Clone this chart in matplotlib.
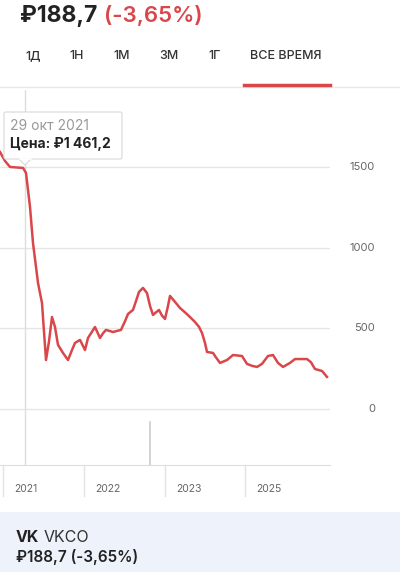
import matplotlib.pyplot as plt
from matplotlib.lines import Line2D
from matplotlib.patches import Rectangle, Polygon, FancyBboxPatch
import matplotlib.transforms as mtransforms

plt.rcParams['font.family'] = ['Inter', 'DejaVu Sans']

# price series (position along the time axis, price in roubles)
t = [0, 5, 10, 23, 26, 30, 33, 38, 42, 44, 46, 49, 52, 55, 58, 63, 68, 70, 72,
     75, 80, 85, 88, 92, 95, 100, 103, 106, 113, 121, 125, 128, 133, 136, 139,
     143, 147, 150, 153, 156, 159, 162, 165, 168, 170, 175, 180, 185, 190, 195,
     199, 202, 205, 207, 213, 216, 220, 227, 233, 242, 247, 252, 257, 262, 268,
     273, 278, 283, 290, 295, 302, 307, 311, 315, 322, 327]
price = [1596, 1540, 1503, 1497, 1466, 1255, 1031, 783, 658, 480, 304, 420, 571,
         509, 398, 348, 304, 335, 366, 410, 429, 366, 441, 480, 509, 441, 470,
         491, 478, 491, 545, 590, 615, 670, 727, 752, 720, 640, 584, 600, 615,
         580, 559, 640, 702, 665, 627, 600, 571, 540, 510, 472, 410, 354, 348,
         320, 286, 304, 335, 329, 280, 268, 261, 280, 329, 335, 286, 261, 286,
         310, 310, 310, 290, 248, 236, 199]

yticks = [0, 500, 1000, 1500]
year_pos = [3, 84, 165, 245]
year_labels = ['2021', '2022', '2023', '2025']
tabs = ['1Д', '1Н', '1М', '3М', '1Г', 'ВСЕ ВРЕМЯ']
tab_x = [33, 77, 122, 169, 215, 286]
hover_t = 25
hover_date = '29 окт 2021'
hover_price = 'Цена: ₽1 461,2'

W, H = 400, 572
red = '#d9474b'
fig = plt.figure(figsize=(W / 100, H / 100), dpi=100)


def fx(x):
    return x / W


def fy(y):
    return 1 - y / H


# header
fig.text(fx(20), fy(16), '₽188,7', fontsize=16.5, fontweight='bold', color='#222222', va='center')
fig.text(fx(104), fy(16), '(-3,65%)', fontsize=16, fontweight='semibold', color=red, va='center')

for lab, x in zip(tabs, tab_x):
    fig.text(fx(x), fy(56), lab, fontsize=9, color='#333333', ha='center', va='center',
             fontweight='medium')
fig.add_artist(Line2D([0, 1], [fy(86.5)] * 2, color='#e8e8e8', lw=1))
fig.add_artist(Line2D([fx(244), fx(330)], [fy(85)] * 2, color=red, lw=2.5))

# chart area
ax = fig.add_axes([0, fy(465), 330 / W, 375 / H])
ax.set_xlim(0, 330)
ax.set_ylim(-348, 1981)
for s in ['top', 'left', 'right']:
    ax.spines[s].set_visible(False)
ax.spines['bottom'].set_color('#dddddd')
ax.set_xticks([])
ax.set_yticks([])
for v in yticks:
    ax.axhline(v, color='#e6e6e6', lw=1, zorder=0)
    ax.text(375 / 330, v, str(v), transform=mtransforms.blended_transform_factory(ax.transAxes, ax.transData),
            ha='right', va='center', fontsize=8, color='#666666')

ax.axvline(hover_t, color='#dddddd', lw=1, zorder=1)
ax.axvline(150, ymin=0, ymax=43 / 375, color='#cccccc', lw=1.2)
ax.plot(t, price, color=red, lw=1.8, zorder=3, solid_joinstyle='round')

for x, lab in zip(year_pos, year_labels):
    fig.add_artist(Line2D([fx(x)] * 2, [fy(465), fy(496)], color='#e3e3e3', lw=1))
    fig.text(fx(x + 11), fy(489), lab, fontsize=7.5, color='#666666', va='center')

# tooltip
fig.add_artist(FancyBboxPatch((fx(4), fy(159)), fx(118), (159 - 112) / H,
                              boxstyle='round,pad=0,rounding_size=0.004',
                              facecolor='white', edgecolor='#d8d8d8', lw=0.8, zorder=5))
fig.add_artist(Polygon([[fx(19), fy(159)], [fx(25), fy(165)], [fx(31), fy(159)]], closed=False,
                       facecolor='white', edgecolor='#d8d8d8', lw=0.8, zorder=6))
fig.add_artist(Line2D([fx(19.5), fx(30.5)], [fy(159)] * 2, color='white', lw=1.2, zorder=7))
fig.text(fx(10), fy(126), hover_date, fontsize=10, color='#999999', va='center', zorder=8)
fig.text(fx(10), fy(144), hover_price, fontsize=10, fontweight='bold', color='#222222', va='center', zorder=8)

# bottom panel
fig.add_artist(Rectangle((0, 0), 1, (H - 512) / H, facecolor='#eef2fb', edgecolor='none'))
fig.text(fx(16), fy(537), 'VK', fontsize=11.5, fontweight='bold', color='#222222', va='center')
fig.text(fx(44), fy(537), 'VKCO', fontsize=11.5, color='#333333', va='center')
fig.text(fx(16), fy(557), '₽188,7 (-3,65%)', fontsize=11, fontweight='semibold', color='#222222', va='center')

fig.savefig('out.png', dpi=100)
